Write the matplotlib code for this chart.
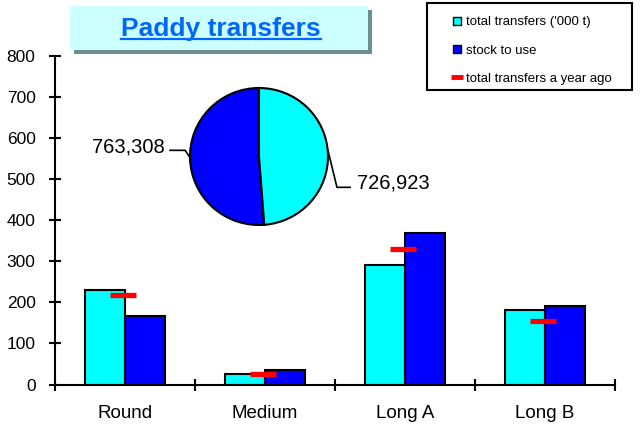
import matplotlib
matplotlib.use("Agg")
import matplotlib.pyplot as plt
import numpy as np
from matplotlib.patches import Rectangle
from matplotlib.lines import Line2D

plt.rcParams['font.family'] = ['Liberation Sans', 'DejaVu Sans']

categories = ['Round', 'Medium', 'Long A', 'Long B']
total_transfers = [229, 25, 292, 181]
stock_to_use = [166, 35, 370, 190]
transfers_year_ago = [219, 26, 331, 155]

pie_labels = ['763,308', '726,923']
pie_values = [763308, 726923]

CYAN = '#00ffff'
BLUE = '#0000ff'
RED = '#ff0000'

fig = plt.figure(figsize=(6.4, 4.28), dpi=100)
ax = fig.add_axes([55 / 640, 0.1016, 560 / 640, 0.7675])

x = np.arange(len(categories))
w = 0.286
ax.bar(x - w / 2, total_transfers, w, color=CYAN, edgecolor='black', linewidth=1.5, zorder=2)
ax.bar(x + w / 2, stock_to_use, w, color=BLUE, edgecolor='black', linewidth=1.5, zorder=2)
ax.hlines(transfers_year_ago, x - 0.108, x + 0.078, color=RED, linewidth=3.8, zorder=3)

ax.set_xlim(-0.5, len(categories) - 0.5)
ax.set_ylim(0, 800)
ax.set_yticks(np.arange(0, 801, 100))
ax.set_xticks(np.arange(len(categories) + 1) - 0.5)
ax.set_xticklabels([])
ax.set_xticks(x, minor=True)
ax.set_xticklabels(categories, minor=True, fontsize=13.5)
ax.tick_params(axis='x', which='minor', length=0, pad=15)
ax.tick_params(axis='x', which='major', direction='inout', length=8, width=1.5)
ax.tick_params(axis='y', direction='inout', length=8, width=1.5, labelsize=12.5, pad=10)
for s in ['top', 'right']:
    ax.spines[s].set_visible(False)
for s in ['left', 'bottom']:
    ax.spines[s].set_linewidth(1.5)

# pie inset
pax = fig.add_axes([190 / 640, 1 - 225 / 428, 138 / 640, 137 / 428])
wedges, _ = pax.pie(pie_values, colors=[BLUE, CYAN], startangle=90,
                    wedgeprops=dict(edgecolor='black', linewidth=1.5))
pax.set_xlim(-1, 1)
pax.set_ylim(-1, 1)
pax.set_aspect('auto')
for wdg, lab in zip(wedges, pie_labels):
    mid = np.deg2rad((wdg.theta1 + wdg.theta2) / 2)
    ex, ey = np.cos(mid), np.sin(mid)
    if ex < 0:
        pts = [(ex, ey + 0.02), (-1.07, 0.09), (-1.29, 0.09)]
        pax.text(-1.36, 0.14, lab, ha='right', va='center', fontsize=14.5)
    else:
        pts = [(ex, ey + 0.05), (1.13, -0.45), (1.32, -0.45)]
        pax.text(1.42, -0.39, lab, ha='left', va='center', fontsize=14.5)
    xs, ys = zip(*pts)
    pax.plot(xs, ys, color='black', linewidth=1.2, clip_on=False)

# title box
fig.patches.append(Rectangle((74 / 640, 1 - 54 / 428), 298 / 640, 44 / 428,
                             transform=fig.transFigure, facecolor='#6f8f8f',
                             edgecolor='none', zorder=0))
fig.patches.append(Rectangle((70 / 640, 1 - 50 / 428), 298 / 640, 44 / 428,
                             transform=fig.transFigure, facecolor='#ccffff',
                             edgecolor='none', zorder=1))
title = fig.text(221 / 640, 1 - 29 / 428, 'Paddy transfers', ha='center', va='center',
                 fontsize=19, fontweight='bold', color='#0066ff')
fig.canvas.draw()
bb = title.get_window_extent()
uy = (bb.y0 + 2) / fig.bbox.height
fig.lines.append(Line2D([bb.x0 / fig.bbox.width, bb.x1 / fig.bbox.width], [uy, uy],
                        transform=fig.transFigure, color='#0066ff', linewidth=1.6))

# legend with its own frame
fig.patches.append(Rectangle((427 / 640, 1 - 90 / 428), 205 / 640, 87 / 428,
                             transform=fig.transFigure, facecolor='white',
                             edgecolor='black', linewidth=1.5, zorder=1))
handles = [
    Line2D([], [], linestyle='none', marker='s', markersize=6, markerfacecolor=CYAN,
           markeredgecolor='black'),
    Line2D([], [], linestyle='none', marker='s', markersize=6, markerfacecolor=BLUE,
           markeredgecolor='black'),
    Line2D([], [], linestyle='none', marker='_', markersize=8, markeredgewidth=3.5,
           markeredgecolor=RED),
]
labels = ["total transfers ('000 t)", 'stock to use', 'total transfers a year ago']
leg = fig.legend(handles, labels, loc='upper left', bbox_to_anchor=(452 / 640, 1 - 16 / 428),
                 fontsize=9.5, frameon=False, handlelength=0.8, handletextpad=0.28,
                 labelspacing=1.22, borderpad=0, borderaxespad=0)

fig.savefig('out.png', dpi=100)
